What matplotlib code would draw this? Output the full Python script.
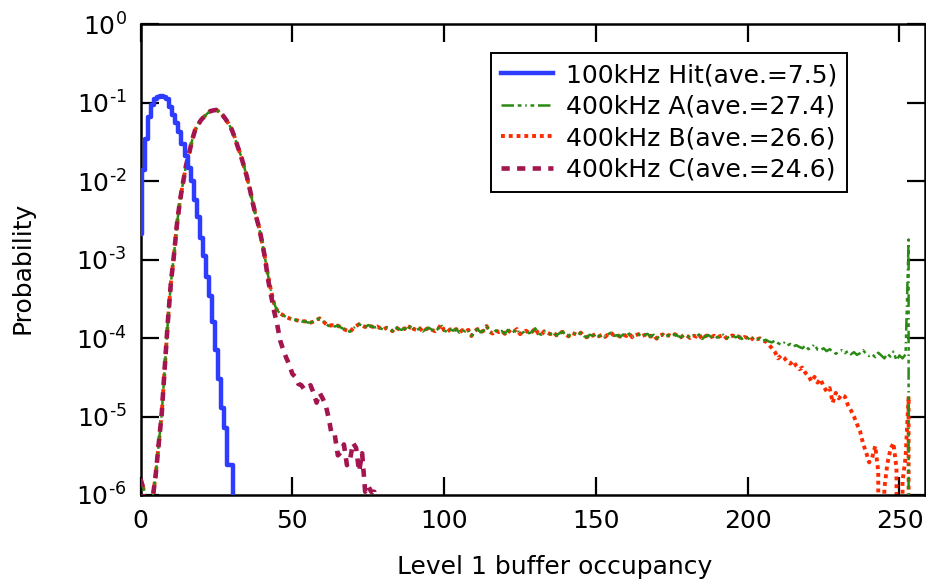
import matplotlib
import numpy as np

matplotlib.use("Agg")
import matplotlib.pyplot as plt  # noqa: E402
from matplotlib.ticker import FuncFormatter, NullLocator  # noqa: E402

plt.rcParams["font.family"] = ["DejaVu Sans"]
plt.rcParams["axes.unicode_minus"] = False
plt.rcParams["mathtext.default"] = "regular"

# 100 kHz hit distribution, one value per occupancy bin (0..31)
hit_prob = [
    2.1e-3, 1.38e-2, 3.4e-2, 6.6e-2, 9.3e-2, 0.112, 0.117, 0.120, 0.117, 0.110,
    8.7e-2, 6.9e-2, 5.5e-2, 4.2e-2, 3.0e-2, 2.1e-2, 1.45e-2, 1.0e-2, 5.8e-3, 3.5e-3,
    1.86e-3, 1.1e-3, 6.0e-4, 3.4e-4, 1.6e-4, 7.1e-5, 3.0e-5, 1.3e-5, 7.2e-6, 2.4e-6,
    2.4e-6, 0.0,
]

# 400 kHz A/B/C share the same rising edge and peak (bins 0..46)
rise_prob = [
    1.6e-6, 1.2e-6, 0.0, 0.0, 9.0e-7, 1.8e-6, 4.5e-6, 1.1e-5, 4.3e-5, 1.6e-4,
    5.0e-4, 1.12e-3, 2.8e-3, 5.6e-3, 9.5e-3, 1.58e-2, 2.24e-2, 3.31e-2, 4.47e-2, 5.25e-2,
    6.03e-2, 6.61e-2, 7.24e-2, 7.76e-2, 7.94e-2, 8.04e-2, 7.59e-2, 6.92e-2, 6.17e-2, 5.37e-2,
    4.57e-2, 3.63e-2, 2.75e-2, 2.14e-2, 1.58e-2, 1.15e-2, 7.9e-3, 5.2e-3, 3.6e-3, 2.6e-3,
    1.7e-3, 1.05e-3, 6.3e-4, 4.0e-4, 2.75e-4, 2.25e-4, 2.05e-4,
]

# 400 kHz A plateau, bins 47..254, in units of 1e-4
a_plateau = [
    1.95, 1.85, 1.78, 1.72, 1.70, 1.66, 1.62, 1.64, 1.58, 1.57,
    1.62, 1.70, 1.78, 1.66, 1.52, 1.42, 1.46, 1.40, 1.44, 1.36,
    1.30, 1.24, 1.20, 1.32, 1.42, 1.50, 1.44, 1.38, 1.46, 1.41,
    1.36, 1.40, 1.33, 1.28, 1.35, 1.31, 1.22, 1.38, 1.30, 1.27,
    1.33, 1.24, 1.46, 1.30, 1.26, 1.33, 1.21, 1.29, 1.35, 1.27,
    1.22, 1.31, 1.48, 1.25, 1.19, 1.29, 1.24, 1.30, 1.17, 1.26,
    1.21, 1.27, 1.06, 1.22, 1.30, 1.18, 1.24, 1.42, 1.20, 1.14,
    1.25, 1.19, 1.23, 1.13, 1.27, 1.16, 1.21, 1.30, 1.12, 1.18,
    1.24, 1.15, 1.20, 1.33, 1.14, 1.10, 1.22, 1.17, 1.12, 1.19,
    1.08, 1.15, 1.20, 1.11, 1.05, 1.16, 1.13, 1.09, 1.17, 1.06,
    1.02, 1.10, 1.07, 1.13, 1.05, 1.10, 1.03, 1.12, 1.17, 1.06,
    1.09, 1.04, 1.11, 1.06, 1.14, 1.02, 1.08, 1.12, 1.05, 1.09,
    1.13, 1.04, 1.10, 0.98, 1.07, 1.11, 1.03, 1.09, 1.05, 1.12,
    1.06, 1.02, 1.10, 1.07, 1.00, 1.08, 1.04, 1.11, 0.97, 1.05,
    1.09, 1.03, 1.07, 1.01, 1.06, 1.10, 0.99, 1.04, 1.08, 1.02,
    1.05, 0.97, 1.03, 1.00, 0.94, 1.02, 0.96, 0.99, 0.92, 0.95,
    0.90, 0.88, 0.93, 0.86, 0.82, 0.87, 0.80, 0.84, 0.78, 0.81,
    0.77, 0.74, 0.80, 0.72, 0.76, 0.83, 0.71, 0.70, 0.74, 0.68,
    0.72, 0.67, 0.63, 0.66, 0.70, 0.64, 0.68, 0.62, 0.66, 0.61,
    0.64, 0.70, 0.63, 0.59, 0.62, 0.57, 0.65, 0.60, 0.55, 0.63,
    0.58, 0.67, 0.52, 0.60, 0.55, 0.62, 18.0, 0.0,
]

# 400 kHz B follows A up to bin 205, then its own tail (bins 206..254), 1e-4 units
b_split = 205
b_tail = [
    0.90, 0.82, 0.74, 0.66, 0.55, 0.60, 0.56, 0.50, 0.47, 0.51,
    0.44, 0.40, 0.42, 0.36, 0.33, 0.28, 0.32, 0.27, 0.30, 0.24,
    0.21, 0.23, 0.15, 0.20, 0.17, 0.19, 0.18, 0.14, 0.12, 0.10,
    0.08, 0.065, 0.045, 0.035, 0.026, 0.030, 0.042, 0.020, 0.0, 0.012,
    0.025, 0.038, 0.046, 0.022, 0.0, 0.015, 0.030, 0.18, 0.0,
]

# 400 kHz C leaves the shared curve at bin 42 (bins 42..78)
c_split = 42
c_tail = [
    5.6e-4, 3.5e-4, 2.2e-4, 1.5e-4, 9.3e-5, 7.1e-5, 5.6e-5, 4.6e-5, 3.5e-5, 3.2e-5,
    2.6e-5, 2.5e-5, 2.2e-5, 2.3e-5, 2.5e-5, 2.0e-5, 1.5e-5, 2.0e-5, 1.7e-5, 1.4e-5,
    9.5e-6, 5.8e-6, 5.8e-6, 3.2e-6, 3.5e-6, 4.4e-6, 2.4e-6, 2.8e-6, 4.6e-6, 4.0e-6,
    2.0e-6, 3.4e-6, 1.1e-6, 1.3e-6, 1.1e-6, 1.1e-6, 0.0,
]

labels = [
    "100kHz Hit(ave.=7.5)",
    "400kHz A(ave.=27.4)",
    "400kHz B(ave.=26.6)",
    "400kHz C(ave.=24.6)",
]

a_prob = np.array(rise_prob + [v * 1e-4 for v in a_plateau])
b_prob = np.concatenate([a_prob[: b_split + 1], np.array(b_tail) * 1e-4])
c_prob = np.array(rise_prob[:c_split] + c_tail)
hit_prob = np.array(hit_prob)


def decade_label(value, _pos):
    power = int(round(np.log10(value)))
    if power < 0:
        return r"$10^{\text{-}%d}$" % -power
    return r"$10^{%d}$" % power


fig = plt.figure(figsize=(9.26, 5.86), dpi=100)
ax = fig.add_axes([140.5 / 926, 91 / 586, 784.5 / 926, 471 / 586])
ax.set_yscale("log")

(h_b,) = ax.plot(np.arange(len(b_prob)), b_prob, color="#ff2a00", lw=2.8,
                 linestyle=(0, (1, 1)), zorder=2)
(h_a,) = ax.plot(np.arange(len(a_prob)), a_prob, color="#2a8a14", lw=1.8,
                 linestyle=(0, (5, 1.5, 1.5, 1.5, 0.6, 1.5, 1.5, 1.5)), zorder=3)
(h_c,) = ax.plot(np.arange(len(c_prob)), c_prob, color="#a3154f", lw=3.3,
                 linestyle=(0, (1.8, 1.6)), zorder=4)
(h_hit,) = ax.step(np.arange(len(hit_prob)), hit_prob, where="mid", color="#2d3cff",
                   lw=3.2, zorder=5)

ax.set_xlim(0, 258.4)
ax.set_ylim(1e-6, 1)
ax.set_xticks([0, 50, 100, 150, 200, 250])
ax.yaxis.set_major_formatter(FuncFormatter(decade_label))
ax.yaxis.set_minor_locator(NullLocator())
ax.tick_params(which="major", direction="in", length=13, width=1.6, labelsize=18,
               top=True, right=True, pad=10)
for spine in ax.spines.values():
    spine.set_linewidth(1.8)

ax.set_xlabel("Level 1 buffer occupancy", fontsize=18)
ax.set_ylabel("Probability", fontsize=18)
ax.xaxis.set_label_coords(0.528, -0.128)
ax.yaxis.set_label_coords(-0.1345, 0.482)

leg = ax.legend([h_hit, h_a, h_b, h_c], labels, loc="upper right",
                bbox_to_anchor=(0.9006, 0.9384), borderaxespad=0, fontsize=18,
                handlelength=2.1, handletextpad=0.5, labelspacing=0.3,
                fancybox=False, framealpha=1, borderpad=0.4)
leg.get_frame().set_edgecolor("black")
leg.get_frame().set_linewidth(1.4)

fig.savefig("out.png", dpi=100)
plt.close(fig)
